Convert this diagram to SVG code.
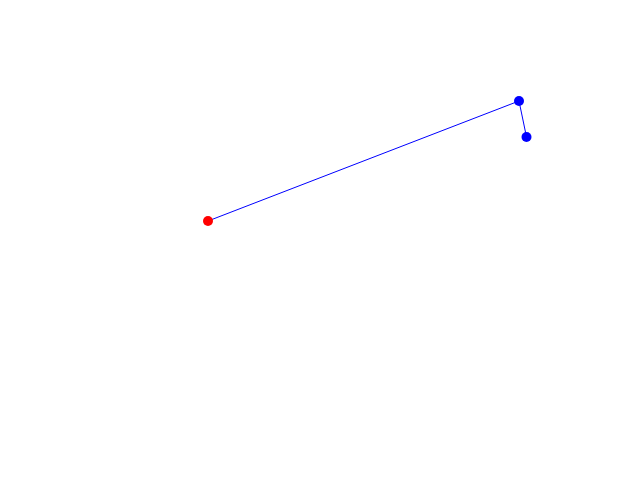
<svg xmlns="http://www.w3.org/2000/svg" width="640" height="480" viewBox="0 0 640 480">
<style>
.edge{stroke:#0000ff;stroke-width:1;fill:none}
.blue{fill:#0000ff}
.red{fill:#ff0000}
</style>
<rect width="640" height="480" fill="#ffffff"/>
<g id="connectors">
<line class="edge" x1="208" y1="221" x2="519" y2="101"/>
<line class="edge" x1="519" y1="101" x2="526.5" y2="137"/>
</g>
<g id="node-red"><circle class="red" cx="208" cy="221" r="5"/></g>
<g id="node-blue1"><circle class="blue" cx="519" cy="101" r="5"/></g>
<g id="node-blue2"><circle class="blue" cx="526.5" cy="137" r="5"/></g>
</svg>
